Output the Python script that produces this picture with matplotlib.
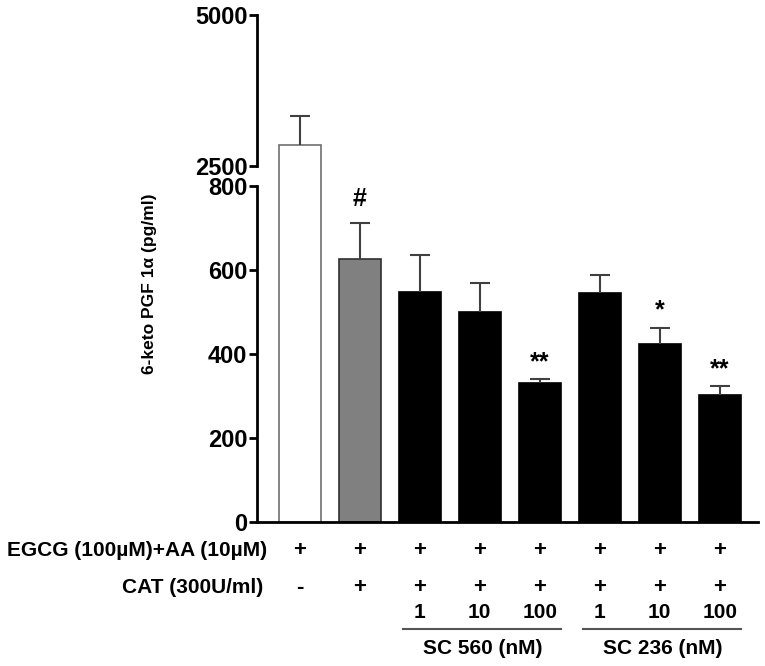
import matplotlib.pyplot as plt
import matplotlib.transforms as mtransforms
import numpy as np

plt.rcParams['font.family'] = ['Liberation Sans', 'DejaVu Sans']
plt.rcParams['font.weight'] = 'bold'

# data
values = [2850, 626, 548, 500, 331, 545, 424, 302]
errors = [480, 86, 88, 69, 9, 43, 38, 22]
colors = ['white', '#808080', 'black', 'black', 'black', 'black', 'black', 'black']
edges = ['#707070', '#303030', 'black', 'black', 'black', 'black', 'black', 'black']
marks = ['', '#', '', '', '**', '', '*', '**']
mark_y = [0, 769, 0, 0, 381, 0, 505, 364]
egcg_row = ['+', '+', '+', '+', '+', '+', '+', '+']
cat_row = ['-', '+', '+', '+', '+', '+', '+', '+']
dose_row = ['', '', '1', '10', '100', '1', '10', '100']
groups = ['SC 560 (nM)', 'SC 236 (nM)']
group_bars = [(2, 4), (5, 7)]

x = np.arange(len(values))

fig = plt.figure(figsize=(7.65, 6.66), dpi=100)
ax = fig.add_axes([0.336, 0.2162, 0.655, 0.5045])
ax_top = fig.add_axes([0.336, 0.7207, 0.655, 0.2568])

for a in (ax, ax_top):
    a.bar(x, values, width=0.7, color=colors, edgecolor=edges, linewidth=1.2)
    eb = a.errorbar(x, values, yerr=[np.zeros(len(values)), errors], fmt='none',
                    ecolor='#404040', elinewidth=1.5, capsize=7.5, capthick=1.5)
    eb[1][0].set_visible(False)  # no cap at the bar top
    a.set_xlim(-0.71, 7.64)
    a.spines['top'].set_visible(False)
    a.spines['right'].set_visible(False)
    a.spines['left'].set_linewidth(2)
    a.tick_params(axis='y', width=2, length=6, labelsize=17, pad=1)
    a.set_xticks([])

ax.set_ylim(0, 800)
ax.set_yticks([0, 200, 400, 600, 800])
ax.spines['bottom'].set_linewidth(2)

ax_top.set_ylim(2169, 5000)
ax_top.set_yticks([2500, 5000])
ax_top.spines['left'].set_bounds(2500, 5000)
ax_top.spines['bottom'].set_visible(False)
ax_top.patch.set_alpha(0)

for lab in ax.get_yticklabels() + ax_top.get_yticklabels():
    lab.set_fontweight('bold')

for i, m in enumerate(marks):
    if m:
        ax.text(x[i], mark_y[i], m, ha='center', va='center', fontsize=18,
                fontweight='bold')

fig.text(0.196, 0.574, '6-keto PGF 1\u03b1 (pg/ml)', rotation=90, ha='center',
         va='center', fontsize=12.5, fontweight='bold')

trans = mtransforms.blended_transform_factory(ax.transData, fig.transFigure)
fig.text(0.349, 0.1727, 'EGCG (100\u00b5M)+AA (10\u00b5M)', ha='right', va='center',
         fontsize=15, fontweight='bold')
fig.text(0.344, 0.1186, 'CAT (300U/ml)', ha='right', va='center',
         fontsize=15, fontweight='bold')
for i in range(len(x)):
    ax.text(x[i], 0.1727, egcg_row[i], transform=trans, ha='center', va='center',
            fontsize=16, fontweight='bold')
    ax.text(x[i], 0.1186, cat_row[i], transform=trans, ha='center', va='center',
            fontsize=16, fontweight='bold')
    ax.text(x[i], 0.0796, dose_row[i], transform=trans, ha='center', va='center',
            fontsize=15, fontweight='bold')

for name, (a, b) in zip(groups, group_bars):
    ax.plot([a - 0.28, b + 0.35], [0.0556, 0.0556], transform=trans, color='#555555',
            lw=1.5, clip_on=False)
    ax.text((a + b) / 2 + 0.05, 0.027, name, transform=trans, ha='center', va='center',
            fontsize=15, fontweight='bold')

fig.savefig('out.png', dpi=100)
